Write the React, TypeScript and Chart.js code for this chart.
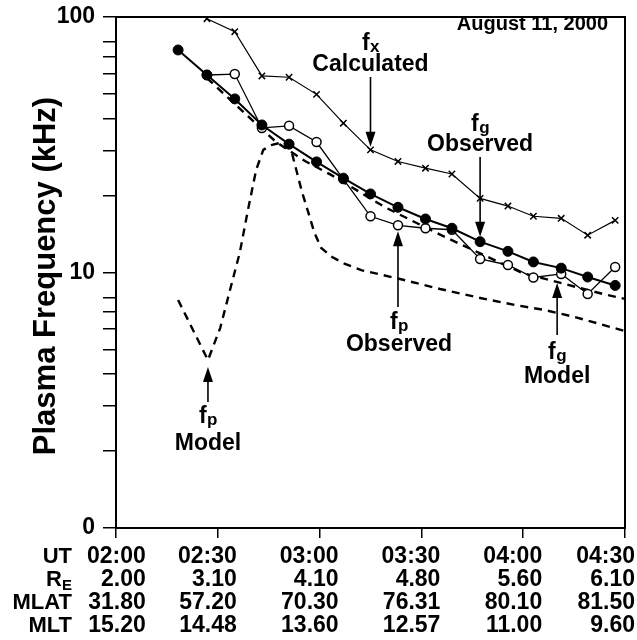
import React, { useEffect, useRef } from "react";
import { Chart, registerables } from "chart.js";
Chart.register(...registerables);

const FONT = '"Liberation Sans", Arial, Helvetica, sans-serif';

// time in minutes after 02:00 UT
const obsTimes = [18.3, 26.8, 35, 43, 51, 59.1, 67, 75, 83.1, 91.2, 99, 107.3, 115.5, 123, 131.2, 139, 147.1];
const fgObserved = [74.3, 59.3, 47.8, 37.8, 31.8, 27.1, 23.4, 20.3, 18.0, 16.2, 14.9, 13.2, 12.1, 11.0, 10.4, 9.6, 8.9];
const fpObserved = [null, 59.3, 59.8, 36.8, 37.5, 32.4, 23.2, 16.6, 15.3, 14.9, 14.7, 11.3, 10.7, 9.56, 9.87, 8.24, 10.5];
const fxCalculated = [null, 98.5, 87.6, 58.8, 58.1, 49.8, 38.4, 30.2, 27.2, 25.6, 24.3, 19.5, 18.2, 16.6, 16.3, 14.0, 16.0];

const fgModelTimes = [26.8, 39.5, 47.2, 55.7, 63.4, 79.3, 95.8, 119.7, 143.5, 150];
const fgModelValues = [57.7, 40.2, 32.4, 27.3, 24.1, 18.0, 14.0, 9.96, 8.24, 7.88];

const fpModelTimes = [18.3, 27.1, 30.7, 33.6, 36.5, 38.9, 41.3, 43.4, 46.0, 49.5, 51.6, 53.0, 54.8, 56.6, 58.4, 60.4, 63.7, 67.5, 72.5, 83.7, 95.5, 107.3, 117.6, 126.4, 135.3, 150];
const fpModelValues = [7.81, 4.54, 6.06, 8.54, 12.0, 17.6, 25.2, 30.2, 31.6, 32.4, 30.2, 25.6, 20.7, 17.3, 14.4, 12.5, 11.5, 10.8, 10.2, 9.43, 8.62, 7.95, 7.46, 7.13, 6.69, 5.9];

const tickTimes = [0, 30, 60, 90, 120, 150];
const utLabels = ["02:00", "02:30", "03:00", "03:30", "04:00", "04:30"];
const reLabels = ["2.00", "3.10", "4.10", "4.80", "5.60", "6.10"];
const mlatLabels = ["31.80", "57.20", "70.30", "76.31", "80.10", "81.50"];
const mltLabels = ["15.20", "14.48", "13.60", "12.57", "11.00", "9.60"];

const yTickValues = [1, 2, 3, 4, 5, 6, 7, 8, 10, 20, 30, 40, 50, 60, 70, 80, 100];
const yTickText: Record<number, string> = { 1: "0", 10: "10", 100: "100" };

const toPts = (ts: number[], vs: (number | null)[]) =>
  ts.map((t, i) => ({ x: t, y: vs[i] })).filter((p) => p.y !== null);

function logInterp(ts: number[], vs: number[], t: number) {
  for (let i = 0; i < ts.length - 1; i++) {
    if (t >= ts[i] && t <= ts[i + 1]) {
      const f = (t - ts[i]) / (ts[i + 1] - ts[i]);
      return Math.pow(10, Math.log10(vs[i]) + f * (Math.log10(vs[i + 1]) - Math.log10(vs[i])));
    }
  }
  return vs[vs.length - 1];
}

function drawSubLabel(ctx: CanvasRenderingContext2D, main: string, sub: string, cx: number, base: number) {
  ctx.font = `bold 23px ${FONT}`;
  const w1 = ctx.measureText(main).width;
  ctx.font = `bold 17px ${FONT}`;
  const w2 = ctx.measureText(sub).width;
  const x0 = cx - (w1 + w2) / 2;
  ctx.textAlign = "left";
  ctx.font = `bold 23px ${FONT}`;
  ctx.fillText(main, x0, base);
  ctx.font = `bold 17px ${FONT}`;
  ctx.fillText(sub, x0 + w1 + 0.5, base + 2);
}

function drawArrow(ctx: CanvasRenderingContext2D, x: number, tail: number, tip: number) {
  const dir = tip > tail ? 1 : -1;
  ctx.beginPath();
  ctx.lineWidth = 1.6;
  ctx.moveTo(x, tail);
  ctx.lineTo(x, tip - dir * 10);
  ctx.stroke();
  ctx.beginPath();
  ctx.moveTo(x, tip);
  ctx.lineTo(x - 5, tip - dir * 15);
  ctx.lineTo(x + 5, tip - dir * 15);
  ctx.closePath();
  ctx.fill();
}

const decorPlugin = {
  id: "decor",
  afterDraw(chart: any) {
    const { ctx, chartArea } = chart;
    const xs = chart.scales.x;
    const ys = chart.scales.y;
    ctx.save();
    ctx.fillStyle = "#000";
    ctx.strokeStyle = "#000";

    // frame
    ctx.lineWidth = 2;
    ctx.strokeRect(chartArea.left, chartArea.top, chartArea.right - chartArea.left, chartArea.bottom - chartArea.top);

    // y title
    ctx.save();
    ctx.translate(55, 276);
    ctx.rotate(-Math.PI / 2);
    ctx.textAlign = "center";
    ctx.textBaseline = "alphabetic";
    ctx.font = `bold 31px ${FONT}`;
    ctx.fillText("Plasma Frequency (kHz)", 0, 0);
    ctx.restore();

    // date
    ctx.textAlign = "right";
    ctx.textBaseline = "alphabetic";
    ctx.font = `bold 20px ${FONT}`;
    ctx.fillText("August 11, 2000", chartArea.right - 17, chartArea.top + 13);

    const ax = (t: number) => xs.getPixelForValue(t);
    const ay = (v: number) => ys.getPixelForValue(v);

    // fx Calculated
    {
      const x = ax(obsTimes[7]);
      drawArrow(ctx, x, 77, ay(fxCalculated[7] as number) - 3);
      drawSubLabel(ctx, "f", "x", x, 50);
      ctx.textAlign = "center";
      ctx.font = `bold 23px ${FONT}`;
      ctx.fillText("Calculated", x, 71);
    }
    // fg Observed
    {
      const x = ax(obsTimes[11]);
      drawArrow(ctx, x, 157, ay(fgObserved[11]) - 5);
      drawSubLabel(ctx, "f", "g", x, 131);
      ctx.textAlign = "center";
      ctx.font = `bold 23px ${FONT}`;
      ctx.fillText("Observed", x, 151);
    }
    // fp Observed
    {
      const x = ax(obsTimes[8]);
      drawArrow(ctx, x, 307, ay(fpObserved[8] as number) + 6);
      drawSubLabel(ctx, "f", "p", x + 1, 329);
      ctx.textAlign = "center";
      ctx.font = `bold 23px ${FONT}`;
      ctx.fillText("Observed", x + 1, 351);
    }
    // fg Model
    {
      const t = 130;
      const x = ax(t);
      drawArrow(ctx, x, 335, ay(logInterp(fgModelTimes, fgModelValues, t)) + 1);
      drawSubLabel(ctx, "f", "g", x, 359);
      ctx.textAlign = "center";
      ctx.font = `bold 23px ${FONT}`;
      ctx.fillText("Model", x, 383);
    }
    // fp Model
    {
      const x = ax(fpModelTimes[1]);
      drawArrow(ctx, x, 402, ay(fpModelValues[1]) + 7);
      drawSubLabel(ctx, "f", "p", x, 423);
      ctx.textAlign = "center";
      ctx.font = `bold 23px ${FONT}`;
      ctx.fillText("Model", x, 450);
    }

    // table under the axis
    const rows = [utLabels, reLabels, mlatLabels, mltLabels];
    const rowBase = [35, 58, 81, 104].map((d) => chartArea.bottom + d);
    const headRight = 72;
    ctx.font = `bold 22px ${FONT}`;
    ctx.textAlign = "right";
    ctx.fillText("UT", headRight, rowBase[0]);
    ctx.font = `bold 15px ${FONT}`;
    const eW = ctx.measureText("E").width;
    ctx.fillText("E", headRight, rowBase[1] + 4);
    ctx.font = `bold 22px ${FONT}`;
    ctx.fillText("R", headRight - eW, rowBase[1]);
    ctx.fillText("MLAT", headRight, rowBase[2]);
    ctx.fillText("MLT", headRight, rowBase[3]);

    ctx.font = `bold 23px ${FONT}`;
    const W = chart.width;
    tickTimes.forEach((t, i) => {
      const px = xs.getPixelForValue(t);
      const colW = Math.max(...rows.map((r) => ctx.measureText(r[i]).width));
      let right = px + 19;
      if (right - colW < headRight + 15) right = headRight + 15 + colW;
      if (right > W - 2) right = W - 2;
      rows.forEach((r, k) => ctx.fillText(r[i], right, rowBase[k]));
    });

    ctx.restore();
  },
};

export default function App() {
  const ref = useRef<HTMLCanvasElement | null>(null);
  useEffect(() => {
    if (!ref.current) return;
    const chart = new Chart(ref.current, {
      type: "scatter",
      data: {
        datasets: [
          {
            label: "fg Observed",
            data: toPts(obsTimes, fgObserved),
            showLine: true,
            borderColor: "#000",
            borderWidth: 2,
            pointRadius: 5,
            pointBackgroundColor: "#000",
            pointBorderColor: "#000",
            pointBorderWidth: 1,
          },
          {
            label: "fp Observed",
            data: toPts(obsTimes, fpObserved),
            showLine: true,
            borderColor: "#000",
            borderWidth: 1.3,
            pointRadius: 4.5,
            pointBackgroundColor: "#fff",
            pointBorderColor: "#000",
            pointBorderWidth: 1.5,
          },
          {
            label: "fx Calculated",
            data: toPts(obsTimes, fxCalculated),
            showLine: true,
            borderColor: "#000",
            borderWidth: 1.2,
            pointStyle: "crossRot",
            pointRadius: 4.5,
            pointBorderColor: "#000",
            pointBorderWidth: 1.5,
          },
          {
            label: "fg Model",
            data: toPts(fgModelTimes, fgModelValues),
            showLine: true,
            borderColor: "#000",
            borderWidth: 2.4,
            borderDash: [8, 6],
            pointRadius: 0,
          },
          {
            label: "fp Model",
            data: toPts(fpModelTimes, fpModelValues),
            showLine: true,
            borderColor: "#000",
            borderWidth: 2.4,
            borderDash: [8, 6],
            pointRadius: 0,
          },
        ],
      },
      options: {
        responsive: false,
        animation: false,
        events: [],
        layout: { padding: { left: 0, top: 17, right: 12, bottom: 0 } },
        plugins: { legend: { display: false }, tooltip: { enabled: false } },
        scales: {
          x: {
            type: "linear",
            min: 0,
            max: 150,
            afterBuildTicks: (s: any) => {
              s.ticks = tickTimes.map((v) => ({ value: v }));
            },
            ticks: { display: false },
            grid: { drawOnChartArea: false, drawTicks: true, tickLength: 10, color: "#000", lineWidth: 1.5 },
            border: { display: true, color: "#000", width: 2 },
            afterFit: (s: any) => {
              s.height = 112;
              s.paddingLeft = 0;
              s.paddingRight = 0;
            },
          },
          y: {
            type: "logarithmic",
            min: 1,
            max: 100,
            afterBuildTicks: (s: any) => {
              s.ticks = yTickValues.map((v) => ({ value: v }));
            },
            ticks: {
              autoSkip: false,
              color: "#000",
              padding: 8,
              font: { family: FONT, size: 23, weight: "bold" },
              callback: (v: any) => yTickText[Number(v)] ?? "",
            },
            grid: { drawOnChartArea: false, drawTicks: true, tickLength: 13, color: "#000", lineWidth: 1.5 },
            border: { display: true, color: "#000", width: 2 },
            afterFit: (s: any) => {
              s.width = 116;
              s.paddingTop = 0;
              s.paddingBottom = 0;
            },
          },
        },
      },
      plugins: [decorPlugin],
    } as any);
    return () => chart.destroy();
  }, []);
  return (
    <div style={{ position: "fixed", left: 0, top: 0, width: 637, height: 640, background: "#fff" }}>
      <canvas ref={ref} width={637} height={640} style={{ width: 637, height: 640, display: "block" }} />
    </div>
  );
}
